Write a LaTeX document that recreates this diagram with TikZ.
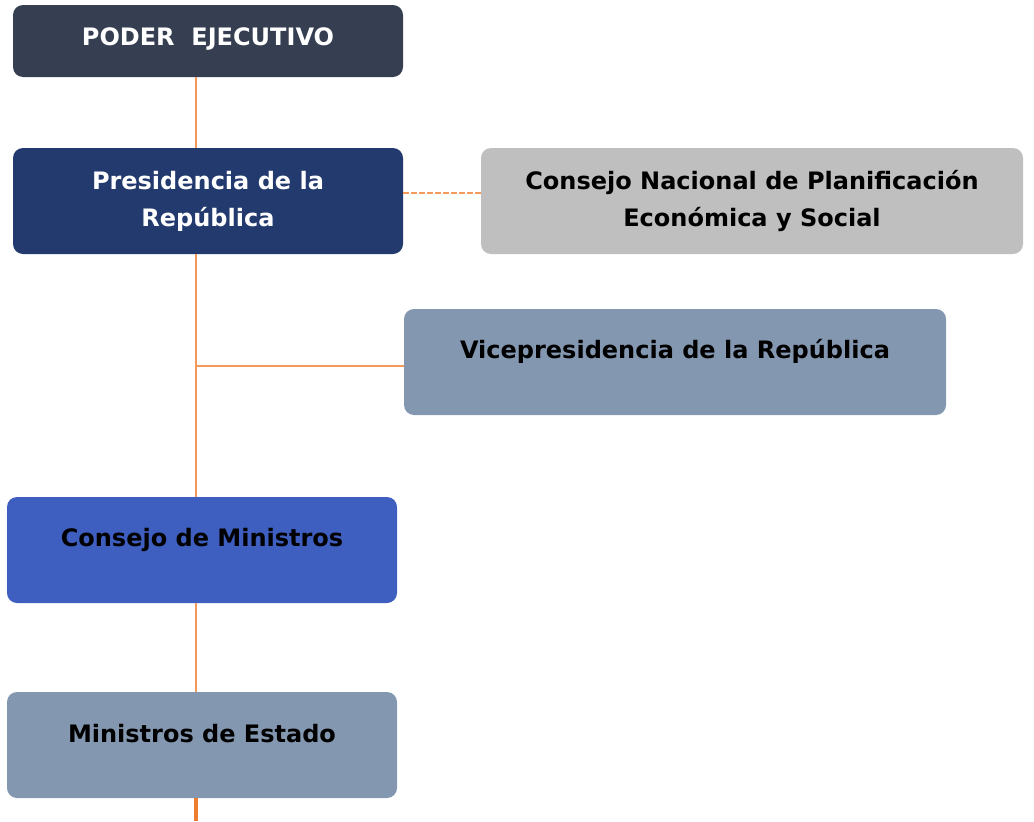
\documentclass[tikz,border=0pt]{standalone}
\usepackage{fontspec}
\setmainfont{DejaVu Sans}
\usetikzlibrary{positioning}

\definecolor{ejecutivo}{HTML}{353F51}
\definecolor{presidencia}{HTML}{233A6E}
\definecolor{planificacion}{HTML}{BFBFBF}
\definecolor{grisazul}{HTML}{8497B0}
\definecolor{ministros}{HTML}{3E5EC0}
\definecolor{linea}{HTML}{F39A5B}
\definecolor{lineafuerte}{HTML}{ED7D31}

\begin{document}
\begin{tikzpicture}
[x=0.75pt, y=-0.75pt, font=\fontsize{18}{27.75}\selectfont\bfseries,
% STYLES
% The box style is used for every unit of the chart
box/.style={rectangle, rounded corners=7.5pt, inner sep=5pt, align=center, minimum height=79.5pt, text=black},
% lift moves a one line text up in its box
lift/.style={text height=13.1pt, text depth=#1},
% Define styles for the connectors
link/.style={draw=linea, line width=1.1pt},
dotlink/.style={draw=linea, line width=1.5pt, dash pattern=on 4pt off 2pt}]

\useasboundingbox (0,0) rectangle (1034,821);

% Draw units
\node [box, fill=ejecutivo, text=white, minimum width=292.5pt, minimum height=54pt, lift=6pt] (ejecutivo) at (208,41) {PODER\ \ EJECUTIVO};
\node [box, fill=presidencia, text=white, minimum width=292.5pt] (presidencia) at (208,201) {Presidencia de la\\República};
\node [box, fill=planificacion, minimum width=406.5pt] (planificacion) at (752,201) {Consejo Nacional de Planificación\\Económica y Social};
\node [box, fill=grisazul, minimum width=406.5pt, lift=18pt] (vice) at (675,362) {Vicepresidencia de la República};
\node [box, fill=ministros, minimum width=292.5pt, lift=18pt] (consejo) at (202,550) {Consejo de Ministros};
\node [box, fill=grisazul, minimum width=292.5pt, lift=16.5pt] (ministros) at (202,745) {Ministros de Estado};

% the line that joins the units
\coordinate (spine) at (196,0);
\coordinate (stub-end) at (196,821);

%%%%%%%%%%%%%%%%

\path[link]
(ejecutivo.south -| spine) edge (presidencia.north -| spine)
(presidencia.south -| spine) edge (consejo.north -| spine)
(consejo.south -| spine) edge (ministros.north -| spine)
([yshift=-3pt]vice.west -| spine) edge ([yshift=-3pt]vice.west);

\draw[dotlink] ([yshift=6pt]presidencia.east) -- ([yshift=6pt]presidencia.east -| planificacion.west);
\draw[draw=lineafuerte, line width=3pt] (ministros.south -| spine) -- (stub-end);

\end{tikzpicture}
\end{document}
